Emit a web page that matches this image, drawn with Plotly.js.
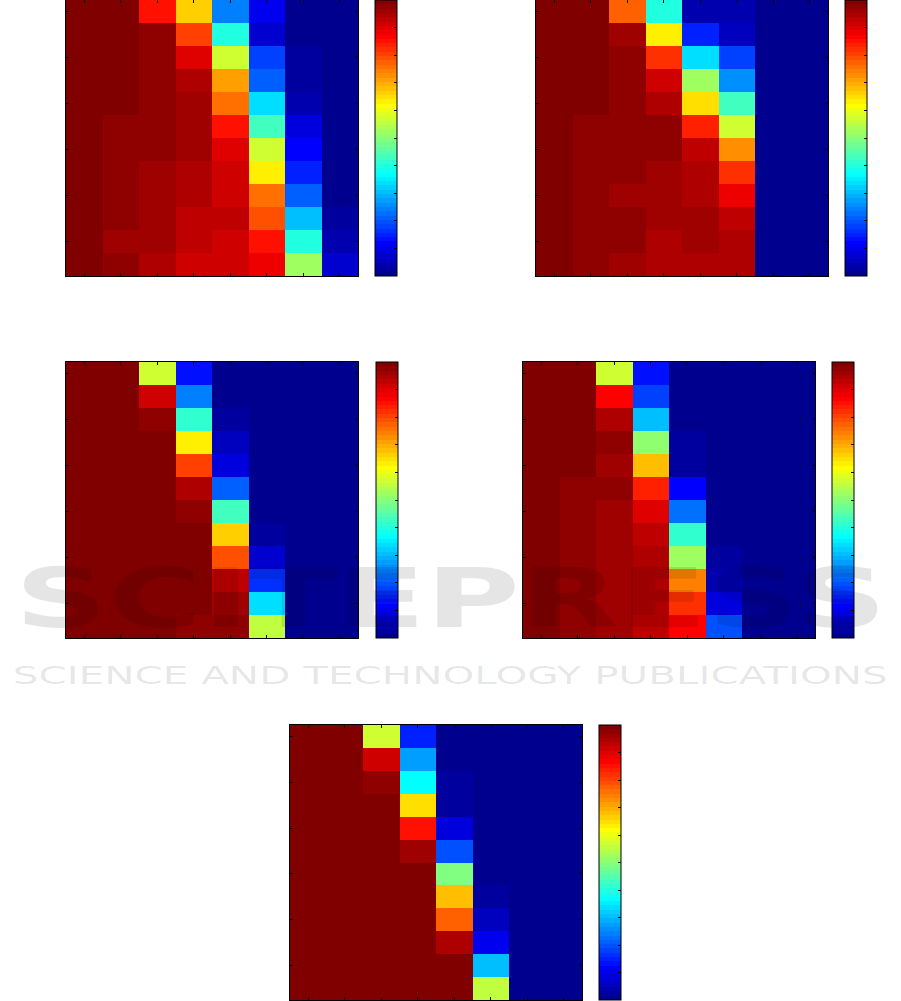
<!DOCTYPE html>
<html>
<head>
<meta charset="utf-8">
<script src="https://cdn.plot.ly/plotly-3.0.1.min.js"></script>
<style>
html,body{margin:0;padding:0;background:#fff;}
#chart{width:901px;height:1001px;}
</style>
</head>
<body>
<div id="chart"></div>
<script>
// ---------- data ----------
const columns = [1, 2, 3, 4, 5, 6, 7, 8];
const rows = [1, 2, 3, 4, 5, 6, 7, 8, 9, 10, 11, 12];
const xTickVals = [1, 2, 3, 4, 5, 6, 7, 8];
const yTickVals = [1, 3, 5, 7, 9, 11];
const colorbarTickVals = [0.1, 0.2, 0.3, 0.4, 0.5, 0.6, 0.7, 0.8, 0.9];

const panelA = [
  [1, 1, 0.852, 0.664, 0.242, 0.102, 0.008, 0.008],
  [1, 1, 0.977, 0.805, 0.398, 0.070, 0.008, 0.008],
  [1, 1, 0.977, 0.898, 0.570, 0.180, 0.023, 0.008],
  [1, 1, 0.977, 0.945, 0.711, 0.211, 0.023, 0.008],
  [1, 1, 0.977, 0.961, 0.758, 0.336, 0.039, 0.008],
  [1, 0.977, 0.977, 0.961, 0.852, 0.430, 0.086, 0.008],
  [1, 0.977, 0.977, 0.961, 0.898, 0.570, 0.117, 0.008],
  [1, 0.977, 0.961, 0.945, 0.914, 0.633, 0.148, 0.008],
  [1, 0.977, 0.961, 0.945, 0.914, 0.758, 0.211, 0.008],
  [1, 0.977, 0.961, 0.930, 0.930, 0.789, 0.305, 0.023],
  [1, 0.961, 0.961, 0.930, 0.914, 0.852, 0.398, 0.039],
  [1, 0.977, 0.945, 0.914, 0.914, 0.883, 0.523, 0.070]
];
const panelB = [
  [1, 1, 0.773, 0.398, 0.039, 0.039, 0.008, 0.008],
  [1, 1, 0.961, 0.633, 0.148, 0.055, 0.008, 0.008],
  [1, 1, 0.977, 0.820, 0.336, 0.180, 0.008, 0.008],
  [1, 1, 0.977, 0.914, 0.523, 0.258, 0.008, 0.008],
  [1, 1, 0.977, 0.945, 0.648, 0.430, 0.008, 0.008],
  [1, 0.977, 0.977, 0.977, 0.836, 0.570, 0.008, 0.008],
  [1, 0.977, 0.977, 0.977, 0.930, 0.727, 0.008, 0.008],
  [1, 0.977, 0.977, 0.961, 0.945, 0.820, 0.008, 0.008],
  [1, 0.977, 0.961, 0.961, 0.945, 0.883, 0.008, 0.008],
  [1, 0.977, 0.977, 0.961, 0.961, 0.930, 0.008, 0.008],
  [1, 0.977, 0.977, 0.945, 0.961, 0.945, 0.008, 0.008],
  [1, 0.977, 0.961, 0.945, 0.945, 0.945, 0.008, 0.008]
];
const panelC = [
  [1, 1, 0.570, 0.133, 0.008, 0.008, 0.008, 0.008],
  [1, 1, 0.914, 0.242, 0.008, 0.008, 0.008, 0.008],
  [1, 1, 0.977, 0.414, 0.023, 0.008, 0.008, 0.008],
  [1, 1, 1, 0.633, 0.055, 0.008, 0.008, 0.008],
  [1, 1, 1, 0.805, 0.086, 0.008, 0.008, 0.008],
  [1, 1, 1, 0.945, 0.211, 0.008, 0.008, 0.008],
  [1, 1, 1, 0.977, 0.430, 0.008, 0.008, 0.008],
  [1, 1, 1, 1, 0.664, 0.023, 0.008, 0.008],
  [1, 1, 1, 1, 0.789, 0.070, 0.008, 0.008],
  [1, 1, 1, 1, 0.930, 0.164, 0.008, 0.008],
  [1, 1, 1, 1, 0.961, 0.336, 0.008, 0.008],
  [1, 1, 1, 0.977, 0.977, 0.555, 0.008, 0.008]
];
const panelD = [
  [1, 1, 0.570, 0.133, 0.008, 0.008, 0.008, 0.008],
  [1, 1, 0.867, 0.180, 0.008, 0.008, 0.008, 0.008],
  [1, 1, 0.945, 0.305, 0.008, 0.008, 0.008, 0.008],
  [1, 1, 0.977, 0.508, 0.023, 0.008, 0.008, 0.008],
  [1, 1, 0.961, 0.680, 0.023, 0.008, 0.008, 0.008],
  [1, 0.977, 0.977, 0.836, 0.117, 0.008, 0.008, 0.008],
  [1, 0.977, 0.961, 0.898, 0.227, 0.008, 0.008, 0.008],
  [1, 0.977, 0.961, 0.930, 0.414, 0.008, 0.008, 0.008],
  [1, 0.977, 0.961, 0.945, 0.523, 0.023, 0.008, 0.008],
  [1, 0.977, 0.961, 0.945, 0.742, 0.039, 0.008, 0.008],
  [1, 0.977, 0.961, 0.945, 0.820, 0.086, 0.008, 0.008],
  [1, 0.977, 0.961, 0.930, 0.867, 0.195, 0.008, 0.008]
];
const panelE = [
  [1, 1, 0.570, 0.148, 0.008, 0.008, 0.008, 0.008],
  [1, 1, 0.914, 0.273, 0.008, 0.008, 0.008, 0.008],
  [1, 1, 0.977, 0.367, 0.023, 0.008, 0.008, 0.008],
  [1, 1, 1, 0.648, 0.023, 0.008, 0.008, 0.008],
  [1, 1, 1, 0.852, 0.086, 0.008, 0.008, 0.008],
  [1, 1, 1, 0.961, 0.195, 0.008, 0.008, 0.008],
  [1, 1, 1, 1, 0.492, 0.008, 0.008, 0.008],
  [1, 1, 1, 1, 0.680, 0.023, 0.008, 0.008],
  [1, 1, 1, 1, 0.773, 0.055, 0.008, 0.008],
  [1, 1, 1, 1, 0.945, 0.102, 0.008, 0.008],
  [1, 1, 1, 1, 1, 0.305, 0.008, 0.008],
  [1, 1, 1, 1, 1, 0.555, 0.008, 0.008]
];

const watermarkTitle = 'SCITEPRESS';
const watermarkSubtitle = 'SCIENCE AND TECHNOLOGY PUBLICATIONS';

// ---------- MATLAB jet(64) colormap, as stepped colorscale ----------
function matlabJet(m) {
  const n = Math.ceil(m / 4);
  const u = [];
  for (let i = 1; i <= n; i++) u.push(i / n);
  for (let i = 1; i < n; i++) u.push(1);
  for (let i = n; i >= 1; i--) u.push(i / n);
  const off = Math.ceil(n / 2) - (m % 4 === 1 ? 1 : 0);
  const J = Array.from({length: m}, () => [0, 0, 0]);
  for (let j = 1; j <= u.length; j++) {
    const g = off + j, r = g + n, b = g - n;
    if (g >= 1 && g <= m) J[g - 1][1] = u[j - 1];
    if (r >= 1 && r <= m) J[r - 1][0] = u[j - 1];
    if (b >= 1 && b <= m) J[b - 1][2] = u[j - 1];
  }
  return J;
}
const jet = matlabJet(64);
const jetScale = [];
jet.forEach((c, k) => {
  const col = 'rgb(' + c.map(v => Math.round(v * 255)).join(',') + ')';
  jetScale.push([k / 64, col]);
  jetScale.push([(k + 1) / 64, col]);
});

// ---------- layout geometry (pixels) ----------
const W = 901, H = 1001;
const panels = [
  {z: panelA, x0: 66,  x1: 358, top: 0,   bottom: 276, cb: 375},
  {z: panelB, x0: 536, x1: 828, top: 0,   bottom: 276, cb: 845},
  {z: panelC, x0: 66,  x1: 358, top: 362, bottom: 638, cb: 376},
  {z: panelD, x0: 523, x1: 815, top: 362, bottom: 638, cb: 832},
  {z: panelE, x0: 290, x1: 582, top: 725, bottom: 1000, cb: 599}
];

const data = [];
const layout = {
  width: W, height: H,
  margin: {l: 0, r: 0, t: 0, b: 0, pad: 0},
  paper_bgcolor: '#fff', plot_bgcolor: '#fff',
  showlegend: false,
  annotations: []
};

panels.forEach((p, i) => {
  const sfx = i === 0 ? '' : String(i + 1);
  const yb = 1 - p.bottom / H, yt = 1 - p.top / H;
  data.push({
    type: 'heatmap',
    x: columns, y: rows, z: p.z,
    xaxis: 'x' + sfx, yaxis: 'y' + sfx,
    colorscale: jetScale, zmin: 0, zmax: 1,
    hoverinfo: 'skip',
    colorbar: {
      x: p.cb / W, xanchor: 'left', xpad: 0,
      y: (yb + yt) / 2, yanchor: 'middle', ypad: 0,
      len: yt - yb, lenmode: 'fraction',
      thickness: 22, thicknessmode: 'pixels',
      tickvals: colorbarTickVals, ticks: 'inside', ticklen: 3,
      tickcolor: '#000', showticklabels: false,
      outlinewidth: 1, outlinecolor: '#000'
    }
  });
  layout['xaxis' + sfx] = {
    domain: [p.x0 / W, p.x1 / W], anchor: 'y' + sfx,
    range: [0.5, 8.5], tickvals: xTickVals,
    ticks: 'inside', ticklen: 3, tickcolor: '#000',
    showticklabels: false, showline: true, linecolor: '#000', linewidth: 1,
    mirror: 'ticks', showgrid: false, zeroline: false, fixedrange: true
  };
  layout['yaxis' + sfx] = {
    domain: [yb, yt], anchor: 'x' + sfx,
    range: [12.5, 0.5], tickvals: yTickVals,
    ticks: 'inside', ticklen: 3, tickcolor: '#000',
    showticklabels: false, showline: true, linecolor: '#000', linewidth: 1,
    mirror: 'ticks', showgrid: false, zeroline: false, fixedrange: true
  };
});

// translucent watermark (darkens whatever lies beneath, like the original)
layout.annotations.push({
  xref: 'paper', yref: 'paper', x: 450 / W, y: 1 - 598 / H,
  xanchor: 'center', yanchor: 'middle', showarrow: false,
  text: watermarkTitle,
  font: {family: 'DejaVu Sans', size: 82, color: 'rgba(0,0,0,0.1)', weight: 'bold'}
});
layout.annotations.push({
  xref: 'paper', yref: 'paper', x: 450 / W, y: 1 - 675 / H,
  xanchor: 'center', yanchor: 'middle', showarrow: false,
  text: watermarkSubtitle,
  font: {family: 'DejaVu Sans', size: 25, color: 'rgba(0,0,0,0.1)'}
});

const gd = document.getElementById('chart');
Plotly.newPlot(gd, data, layout, {staticPlot: true, displayModeBar: false}).then(() => {
  const widths = [872, 875];
  gd.querySelectorAll('.annotation-text').forEach((t, i) => {
    t.setAttribute('textLength', widths[i]);
    t.setAttribute('lengthAdjust', 'spacingAndGlyphs');
  });
});
</script>
</body>
</html>
